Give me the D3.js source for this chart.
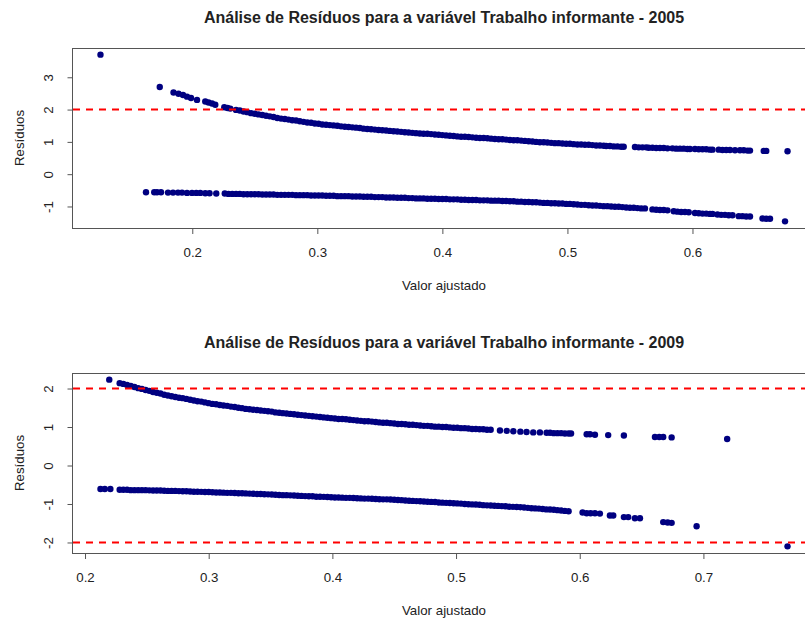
<!DOCTYPE html>
<html>
<head>
<meta charset="utf-8">
<script src="https://cdn.jsdelivr.net/npm/d3@7"></script>
<style>
  body { margin: 0; background: #fff; }
  text { font-family: "Liberation Sans", Arial, sans-serif; fill: #222; }
</style>
</head>
<body>
<svg id="chart" width="805" height="621"></svg>
<script>
// ---- 2005: fitted values and residuals (y = 1 branch, upper) ----
const fit2005Upper = [
  0.1266, 0.174, 0.185, 0.189, 0.1926, 0.1958, 0.199, 0.2038, 0.2104, 0.213, 0.2158, 0.2184, 0.2256, 0.2282, 0.2304,
  0.235,0.238,0.241,0.244,0.247,0.250,0.253,0.256,0.259,0.262,
  0.265,0.268,0.271,0.274,0.277,0.280,0.283,0.286,0.289,0.292,
  0.295,0.298,0.301,0.304,0.307,0.310,0.313,0.316,0.319,0.322,
  0.325,0.328,0.331,0.334,0.337,0.340,0.343,0.346,0.349,0.352,
  0.355,0.358,0.361,0.364,0.367,0.370,0.373,0.376,0.379,0.382,
  0.385,0.388,0.391,0.394,0.397,0.400,0.403,0.406,0.409,0.412,
  0.415,0.418,0.421,0.424,0.427,0.430,0.433,0.436,0.439,0.442,
  0.445,0.448,0.451,0.454,0.457,0.460,0.463,0.466,0.469,0.472,
  0.475,0.478,0.481,0.484,0.487,0.490,0.493,0.496,0.499,0.502,
  0.505,0.508,0.511,0.514,0.517,0.520,0.523,0.526,0.529,
  0.531,0.534,0.537,0.540,0.543,0.545, 0.554,0.557,0.560,0.563,0.565,
  0.568,0.571,0.574,0.577,0.580, 0.584,0.587,0.590,0.593,0.596,0.598,
  0.602,0.605,0.608,0.611,0.614,0.616, 0.621,0.624,0.627, 0.630,0.634,
  0.638,0.641,0.644,0.646, 0.657,0.659, 0.676
];
const res2005Upper = [
  3.70, 2.70, 2.53, 2.49, 2.45, 2.40, 2.36, 2.30, 2.25, 2.22, 2.19, 2.15, 2.07, 2.05, 2.03,
  1.99,1.97,1.94,1.92,1.89,1.87,1.85,1.83,1.81,1.79,
  1.77,1.74,1.72,1.71,1.69,1.67,1.66,1.64,1.62,1.60,
  1.59,1.57,1.56,1.54,1.53,1.52,1.51,1.50,1.48,1.47,
  1.46,1.45,1.44,1.43,1.41,1.40,1.39,1.38,1.37,1.36,
  1.35,1.34,1.33,1.32,1.31,1.30,1.29,1.28,1.27,1.26,
  1.25,1.25,1.24,1.23,1.22,1.21,1.20,1.19,1.18,1.17,
  1.16,1.16,1.15,1.14,1.13,1.12,1.12,1.11,1.10,1.09,
  1.08,1.08,1.07,1.06,1.05,1.05,1.04,1.03,1.02,1.01,
  1.00,0.99,0.99,0.98,0.97,0.96,0.96,0.95,0.94,0.94,
  0.93,0.92,0.92,0.91,0.91,0.90,0.89,0.89,0.88,
  0.87,0.87,0.86,0.86,0.85,0.85, 0.84,0.83,0.83,0.83,0.82,
  0.82,0.81,0.81,0.81,0.80, 0.80,0.79,0.79,0.79,0.78,0.78,
  0.78,0.77,0.77,0.77,0.76,0.76, 0.76,0.75,0.75, 0.75,0.74,
  0.74,0.74,0.73,0.73, 0.72,0.72, 0.71
];

// ---- 2005: fitted values and residuals (y = 0 branch, lower) ----
const fit2005Lower = [
  0.163,0.1696,0.1718,0.175,0.1806,0.1846,0.1886,0.1918,0.1958,0.1998,0.2032,0.2064,0.2104,0.2138,0.2192,
  0.226,0.229,0.232,0.235,0.238,0.241,0.244,0.247,0.250,0.253,
  0.256,0.259,0.262,0.265,0.268,0.271,0.274,0.277,0.280,0.283,
  0.286,0.289,0.292,0.295,0.298,0.301,0.304,0.307,0.310,0.313,
  0.316,0.319,0.322,0.325,0.328,0.331,0.334,0.337,0.340,0.343,
  0.346,0.349,0.352,0.355,0.358,0.361,0.364,0.367,0.370,0.373,
  0.376,0.379,0.382,0.385,0.388,0.391,0.394,0.397,0.400,0.403,
  0.406,0.409,0.412,0.415,0.418,0.421,0.424,0.427,0.430,0.433,
  0.436,0.439,0.442,0.445,0.448,0.451,0.454,0.457,0.460,0.463,
  0.466,0.469,0.472,0.475,0.478,0.481,0.484,0.487,0.490,0.493,
  0.496,0.499,0.502,0.505,0.508,0.511,0.514,0.517,0.520,0.523,
  0.526,0.529,0.532,0.535,0.538,0.541,0.544,0.547,0.550,0.553,
  0.556,0.559,0.562,
  0.568,0.571,0.574,0.577,0.580, 0.585,0.588,0.591,0.594,0.597,
  0.602,0.605,0.608,0.611,0.614,0.616, 0.620,0.623,0.626,0.629,0.632,
  0.637,0.640,0.643,0.646, 0.656,0.659,0.662, 0.674
];
const res2005Lower = [
  -0.56,-0.56,-0.56,-0.56,-0.57,-0.57,-0.57,-0.57,-0.58,-0.58,-0.58,-0.58,-0.59,-0.59,-0.60,
  -0.60,-0.61,-0.61,-0.61,-0.61,-0.62,-0.62,-0.62,-0.62,-0.62,
  -0.63,-0.63,-0.63,-0.63,-0.64,-0.64,-0.64,-0.64,-0.64,-0.65,
  -0.65,-0.65,-0.65,-0.66,-0.66,-0.66,-0.66,-0.67,-0.67,-0.67,
  -0.68,-0.68,-0.68,-0.68,-0.69,-0.69,-0.69,-0.70,-0.70,-0.70,
  -0.71,-0.71,-0.71,-0.72,-0.72,-0.72,-0.73,-0.73,-0.73,-0.74,
  -0.74,-0.75,-0.75,-0.75,-0.76,-0.76,-0.76,-0.77,-0.77,-0.77,
  -0.78,-0.78,-0.78,-0.79,-0.79,-0.80,-0.80,-0.80,-0.81,-0.81,
  -0.81,-0.82,-0.82,-0.82,-0.83,-0.83,-0.84,-0.84,-0.85,-0.85,
  -0.86,-0.86,-0.87,-0.87,-0.88,-0.89,-0.89,-0.90,-0.90,-0.91,
  -0.91,-0.92,-0.92,-0.93,-0.94,-0.95,-0.95,-0.96,-0.97,-0.97,
  -0.98,-0.99,-0.99,-1.00,-1.01,-1.01,-1.02,-1.03,-1.04,-1.04,
  -1.05,-1.06,-1.06,
  -1.09,-1.10,-1.11,-1.11,-1.12, -1.15,-1.16,-1.17,-1.17,-1.18,
  -1.20,-1.21,-1.22,-1.22,-1.23,-1.23, -1.25,-1.26,-1.26,-1.27,-1.27,
  -1.30,-1.30,-1.31,-1.31, -1.37,-1.38,-1.38, -1.46
];

// ---- 2009: fitted values and residuals (upper branch) ----
const fit2009Upper = [
  0.2196,
  0.228,0.231,0.234,0.237,0.240,0.243,0.246,0.249,0.252,0.255,
  0.258,0.261,0.264,0.267,0.270,0.273,0.276,0.279,0.282,0.285,
  0.288,0.291,0.294,0.297,0.300,0.303,0.306,0.309,0.312,0.315,
  0.318,0.321,0.324,0.327,0.330,0.333,0.336,0.339,0.342,0.345,
  0.348,0.351,0.354,0.357,0.360,0.363,0.366,0.369,0.372,0.375,
  0.378,0.381,0.384,0.387,0.390,0.393,0.396,0.399,0.402,0.405,
  0.408,0.411,0.414,0.417,0.420,0.423,0.426,0.429,0.432,0.435,
  0.438,0.441,0.444,0.447,0.450,0.453,0.456,0.459,0.462,0.465,
  0.468,0.471,0.474,0.477,0.480,0.483,0.486,0.489,0.492,0.495,
  0.498,0.501,0.504,0.507,0.510,0.513,0.516,0.519,0.522,0.525,
  0.528,
  0.5355,0.541,0.5463,0.552,0.557,0.5624,0.5678,0.5732,0.576,0.579,0.582,0.585,0.588,0.591,0.593,
  0.6056,0.6083,0.6123, 0.623, 0.6357, 0.6608,0.6643,0.6675, 0.6743, 0.7192
];
const res2009Upper = [
  2.23,
  2.14,2.12,2.09,2.07,2.04,2.01,1.99,1.96,1.94,1.91,
  1.89,1.87,1.84,1.82,1.80,1.78,1.76,1.75,1.73,1.71,
  1.69,1.67,1.66,1.64,1.62,1.60,1.59,1.57,1.56,1.55,
  1.53,1.52,1.50,1.49,1.47,1.46,1.45,1.44,1.43,1.42,
  1.41,1.40,1.38,1.37,1.36,1.35,1.34,1.33,1.32,1.31,
  1.30,1.29,1.28,1.27,1.26,1.25,1.24,1.23,1.22,1.21,
  1.21,1.20,1.19,1.18,1.17,1.16,1.15,1.15,1.14,1.13,
  1.12,1.11,1.11,1.10,1.09,1.08,1.08,1.07,1.06,1.06,
  1.05,1.04,1.03,1.03,1.02,1.01,1.01,1.00,1.00,0.99,
  0.98,0.98,0.97,0.97,0.96,0.95,0.95,0.94,0.94,0.93,
  0.93,
  0.91,0.90,0.89,0.88,0.87,0.86,0.86,0.85,0.85,0.84,0.84,0.84,0.83,0.83,0.83,
  0.81,0.81,0.80, 0.79, 0.78, 0.74,0.74,0.74, 0.73, 0.69
];

// ---- 2009: fitted values and residuals (lower branch) ----
const fit2009Lower = [
  0.2125,0.216,0.2205,
  0.228,0.231,0.234,0.237,0.240,0.243,0.246,0.249,0.252,0.255,
  0.258,0.261,0.264,0.267,0.270,0.273,0.276,0.279,0.282,0.285,
  0.288,0.291,0.294,0.297,0.300,0.303,0.306,0.309,0.312,0.315,
  0.318,0.321,0.324,0.327,0.330,0.333,0.336,0.339,0.342,0.345,
  0.348,0.351,0.354,0.357,0.360,0.363,0.366,0.369,0.372,0.375,
  0.378,0.381,0.384,0.387,0.390,0.393,0.396,0.399,0.402,0.405,
  0.408,0.411,0.414,0.417,0.420,0.423,0.426,0.429,0.432,0.435,
  0.438,0.441,0.444,0.447,0.450,0.453,0.456,0.459,0.462,0.465,
  0.468,0.471,0.474,0.477,0.480,0.483,0.486,0.489,0.492,0.495,
  0.498,0.501,0.504,0.507,0.510,0.513,0.516,0.519,0.522,0.525,
  0.528,0.531,0.534,0.537,0.540,0.543,0.546,0.549,0.552,0.555,
  0.558,0.561,0.564,0.567,0.570,0.573,0.576,0.579,0.582,0.585,
  0.588,0.591,
  0.6023,0.6056,0.6088,0.6123,0.6163, 0.6244,0.6271, 0.6357,0.6392, 0.6446,0.6487,
  0.6675,0.6711,0.6743, 0.6945, 0.768
];
const res2009Lower = [
  -0.61,-0.61,-0.61,
  -0.63,-0.63,-0.63,-0.64,-0.64,-0.64,-0.64,-0.64,-0.645,-0.65,
  -0.65,-0.65,-0.655,-0.66,-0.66,-0.66,-0.665,-0.67,-0.67,-0.675,
  -0.68,-0.68,-0.685,-0.69,-0.69,-0.695,-0.70,-0.70,-0.705,-0.71,
  -0.71,-0.715,-0.72,-0.72,-0.725,-0.73,-0.735,-0.74,-0.74,-0.745,
  -0.75,-0.755,-0.76,-0.765,-0.77,-0.77,-0.775,-0.78,-0.785,-0.79,
  -0.795,-0.80,-0.80,-0.81,-0.81,-0.815,-0.82,-0.825,-0.83,-0.83,
  -0.835,-0.84,-0.84,-0.845,-0.85,-0.855,-0.86,-0.86,-0.865,-0.87,
  -0.875,-0.88,-0.88,-0.885,-0.89,-0.895,-0.90,-0.91,-0.915,-0.92,
  -0.925,-0.93,-0.935,-0.94,-0.945,-0.95,-0.96,-0.965,-0.97,-0.975,
  -0.98,-0.985,-0.99,-1.00,-1.005,-1.01,-1.015,-1.02,-1.03,-1.035,
  -1.04,-1.045,-1.05,-1.055,-1.06,-1.07,-1.075,-1.08,-1.085,-1.09,
  -1.10,-1.11,-1.115,-1.12,-1.13,-1.14,-1.145,-1.15,-1.16,-1.17,
  -1.18,-1.19,
  -1.22,-1.24,-1.24,-1.24,-1.25, -1.30,-1.30, -1.34,-1.34, -1.37,-1.37,
  -1.47,-1.48,-1.49, -1.58, -2.10
];

// ---- axes, reference lines and labels ----
const xTicks2005 = [0.2, 0.3, 0.4, 0.5, 0.6];
const yTicks2005 = [-1, 0, 1, 2, 3];
const xTicks2009 = [0.2, 0.3, 0.4, 0.5, 0.6, 0.7];
const yTicks2009 = [-2, -1, 0, 1, 2];
const referenceLines = [-2, 2];
const titles = [
  "Análise de Resíduos para a variável Trabalho informante - 2005",
  "Análise de Resíduos para a variável Trabalho informante - 2009"
];
const xLabel = "Valor ajustado";
const yLabel = "Resíduos";

// ---- drawing ----
const svg = d3.select("#chart");
svg.append("rect").attr("width", 805).attr("height", 621).attr("fill", "#fff");

const plotLeft = 73, plotRight = 815, plotHeight = 180;
const dotColor = "#000080";
const lineGray = "#555";

// R-style axis range: data extent widened by 4% on each side
const pad4 = ([a, b]) => { const d = (b - a) * 0.04; return [a - d, b + d]; };

function drawPanel(top, title, fitSets, resSets, xTicks, yTicks) {
  const allFit = fitSets.flat(), allRes = resSets.flat();
  const x = d3.scaleLinear().domain(pad4(d3.extent(allFit))).range([plotLeft, plotRight]);
  const y = d3.scaleLinear().domain(pad4(d3.extent(allRes))).range([plotHeight, 0]);

  const g = svg.append("g").attr("transform", `translate(0,${top})`);

  // points
  const pts = [];
  fitSets.forEach((f, k) => f.forEach((v, i) => pts.push([v, resSets[k][i]])));
  g.append("g").selectAll("circle").data(pts).join("circle")
    .attr("cx", d => x(d[0])).attr("cy", d => y(d[1]))
    .attr("r", 3.2).attr("fill", dotColor);

  // dashed reference lines (only those inside the y range)
  const [y0, y1] = y.domain();
  g.append("g").selectAll("line").data(referenceLines.filter(v => v > y0 && v < y1)).join("line")
    .attr("x1", plotLeft).attr("x2", plotRight)
    .attr("y1", d => y(d)).attr("y2", d => y(d))
    .attr("stroke", "#ff0000").attr("stroke-width", 2)
    .attr("stroke-dasharray", "7,6");

  // frame
  g.append("rect")
    .attr("x", plotLeft - 0.5).attr("y", 0.5)
    .attr("width", plotRight - plotLeft).attr("height", plotHeight)
    .attr("fill", "none").attr("stroke", lineGray).attr("stroke-width", 1);

  // x axis
  const xa = g.append("g").attr("transform", `translate(0,${plotHeight + 0.5})`)
    .call(d3.axisBottom(x).tickValues(xTicks).tickSize(5.5).tickFormat(d => d.toFixed(1)));
  xa.select(".domain").remove();
  xa.selectAll(".tick line").attr("stroke", lineGray);
  xa.selectAll(".tick text").attr("y", 28).attr("dy", null)
    .attr("font-size", "13.3px").attr("fill", "#222").attr("font-family", null);

  // y axis (labels parallel to the axis, plain hyphen for negatives)
  const ya = g.append("g").attr("transform", `translate(${plotLeft - 0.5},0)`)
    .call(d3.axisLeft(y).tickValues(yTicks).tickSize(5).tickFormat(d => String(d)));
  ya.select(".domain").remove();
  ya.selectAll(".tick line").attr("stroke", lineGray);
  ya.selectAll(".tick text")
    .attr("x", null).attr("dy", null)
    .attr("transform", "translate(-19.5,0) rotate(-90)")
    .attr("text-anchor", "middle")
    .attr("font-size", "13.3px").attr("fill", "#222").attr("font-family", null);

  // title
  g.append("text")
    .attr("x", (plotLeft + plotRight) / 2).attr("y", -24.8)
    .attr("text-anchor", "middle").attr("font-weight", "bold").attr("font-size", "16px")
    .attr("fill", "#111")
    .text(title);

  // axis titles
  g.append("text")
    .attr("x", (plotLeft + plotRight) / 2).attr("y", plotHeight + 61.5)
    .attr("text-anchor", "middle").attr("font-size", "13.3px")
    .text(xLabel);
  g.append("text")
    .attr("transform", `translate(23.5,${plotHeight / 2}) rotate(-90)`)
    .attr("text-anchor", "middle").attr("font-size", "13.3px")
    .text(yLabel);
}

drawPanel(48, titles[0], [fit2005Upper, fit2005Lower], [res2005Upper, res2005Lower], xTicks2005, yTicks2005);
drawPanel(373, titles[1], [fit2009Upper, fit2009Lower], [res2009Upper, res2009Lower], xTicks2009, yTicks2009);
</script>
</body>
</html>
